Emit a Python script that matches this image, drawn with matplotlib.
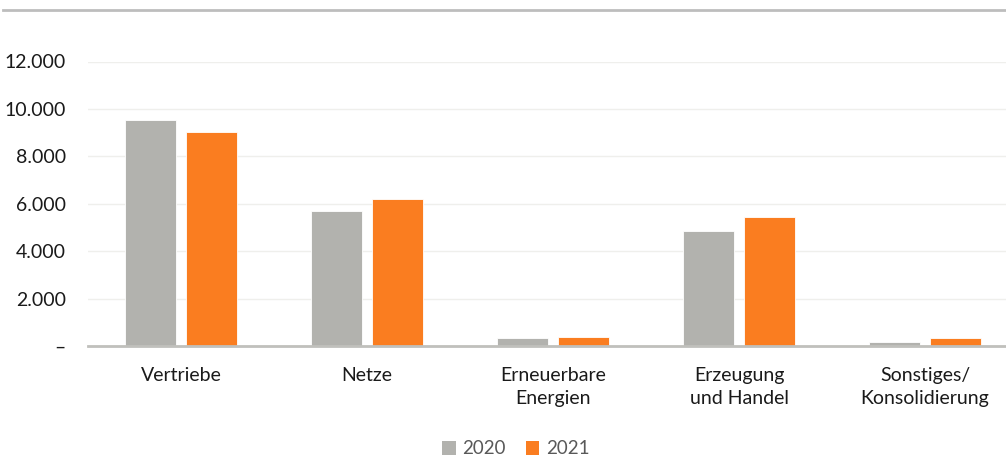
import matplotlib
matplotlib.use("Agg")
import matplotlib.pyplot as plt
from matplotlib.lines import Line2D
from matplotlib.patches import Patch
import numpy as np

categories = ["Vertriebe", "Netze", "Erneuerbare\nEnergien", "Erzeugung\nund Handel", "Sonstiges/\nKonsolidierung"]
series_names = ["2020", "2021"]
values_2020 = [9530, 5680, 330, 4860, 160]
values_2021 = [9030, 6200, 390, 5460, 320]
yticks = [0, 2000, 4000, 6000, 8000, 10000, 12000]
ytick_labels = ["–", "2.000", "4.000", "6.000", "8.000", "10.000", "12.000"]

colors = ["#b2b2ae", "#fa7d20"]

plt.rcParams['font.family'] = ['Lato', 'DejaVu Sans']

fig = plt.figure(figsize=(10.06, 4.76), dpi=100)
ax = fig.add_axes([88/1006, 1-346/476, 930/1006, (346-61.5)/476])

x = np.arange(len(categories))
w = 0.274
off = 0.164
ax.bar(x - off, values_2020, width=w, color=colors[0], edgecolor="white", linewidth=0.6, zorder=3)
ax.bar(x + off, values_2021, width=w, color=colors[1], edgecolor="white", linewidth=0.6, zorder=3)

ax.set_xlim(-0.5, len(categories) - 0.5)
ax.set_ylim(0, 12000)
ax.set_yticks(yticks)
ax.set_yticklabels(ytick_labels)
ax.set_xticks(x)
ax.set_xticklabels(categories, linespacing=1.45)
ax.tick_params(axis='both', length=0, labelsize=14, colors="#1a1a1a")
ax.tick_params(axis='y', pad=16)
ax.tick_params(axis='x', pad=15)
ax.grid(axis='y', color="#efefec", linewidth=1, zorder=0)
for s in ["top", "right", "left"]:
    ax.spines[s].set_visible(False)
ax.spines["bottom"].set_color("#c0c0bc")
ax.spines["bottom"].set_linewidth(2)
ax.spines["bottom"].set_zorder(4)

fig.add_artist(Line2D([0.003, 1], [1-10/476, 1-10/476], color="#bdbdbd", linewidth=2, transform=fig.transFigure))

handles = [Patch(facecolor=c, edgecolor="none") for c in colors]
leg = fig.legend(handles, series_names, loc="center", bbox_to_anchor=(516/1006, 1-449/476), ncol=2,
                 frameon=False, fontsize=13.5, handlelength=0.7, handleheight=0.7,
                 handletextpad=0.35, columnspacing=1.1, labelcolor="#595959")

fig.savefig("out.png", dpi=100)
